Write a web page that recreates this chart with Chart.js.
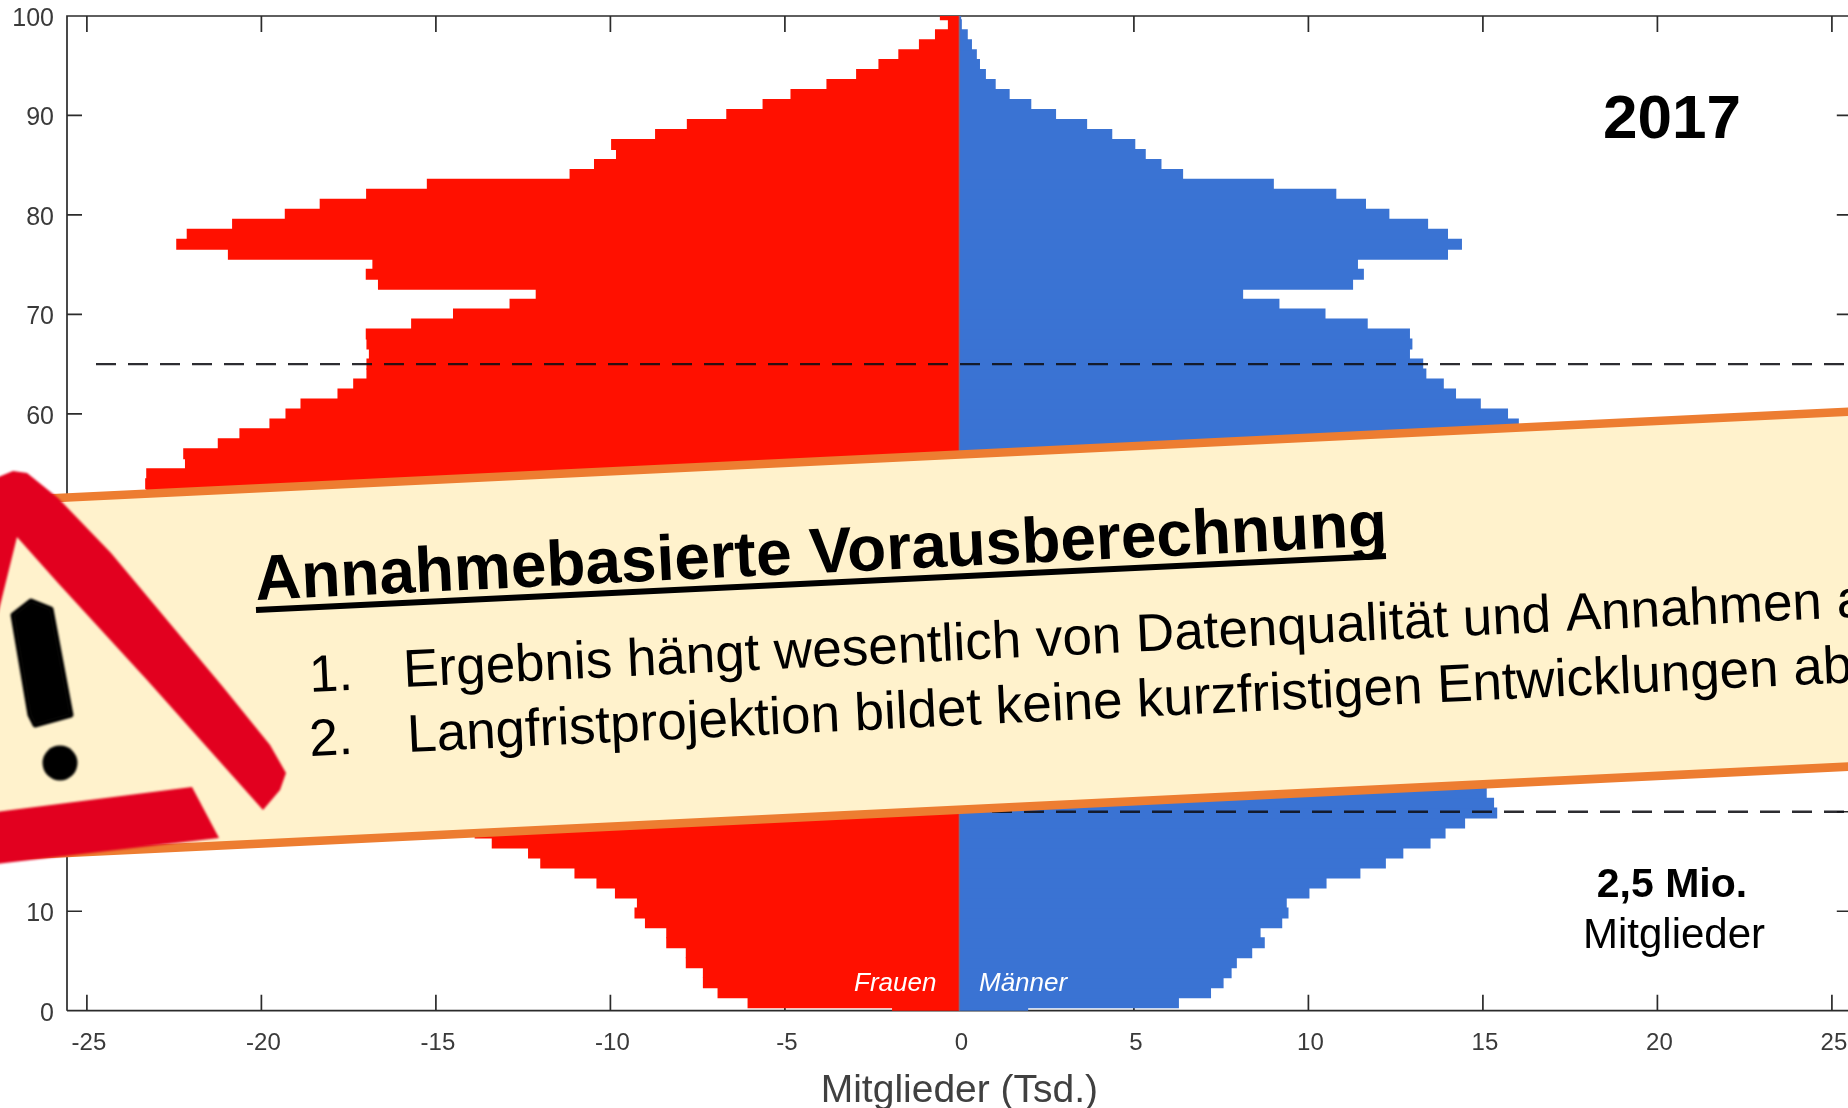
<!DOCTYPE html>
<html lang="de">
<head>
<meta charset="utf-8">
<title>Mitglieder 2017</title>
<style>
  html, body { margin: 0; padding: 0; background: #fff; overflow: hidden; width: 1848px; height: 1108px; }
  canvas { display: block; }
</style>
<script src="https://cdn.jsdelivr.net/npm/chart.js@4"></script>
</head>
<body>
<div style="width:1848px;height:1108px;overflow:hidden">
  <canvas id="pyramid" width="1900" height="1108"></canvas>
</div>
<script>
// one row per age band, bottom to top; row -1 is the small patch behind the Frauen/Männer labels
const rows = [-1, 0, 1, 2, 3, 4, 5, 6, 7, 8, 9,
  10, 11, 12, 13, 14, 15, 16, 17, 18, 19,
  20, 21, 22, 23, 24, 25, 26, 27, 28, 29,
  30, 31, 32, 33, 34, 35, 36, 37, 38, 39,
  40, 41, 42, 43, 44, 45, 46, 47, 48, 49,
  50, 51, 52, 53, 54, 55, 56, 57, 58, 59,
  60, 61, 62, 63, 64, 65, 66, 67, 68, 69,
  70, 71, 72, 73, 74, 75, 76, 77, 78, 79,
  80, 81, 82, 83, 84, 85, 86, 87, 88, 89,
  90, 91, 92, 93, 94, 95, 96, 97, 98, 99];

const frauen = [-1.93, -6.07, -6.93, -7.35, -7.35, -7.84, -7.84, -8.4, -8.4, -9.01, -9.31,
  -9.24, -9.87, -10.4, -11.03, -12.01, -12.36, -13.4, -13.89, -14.6, -15.3,
  -15.9, -16.2, -16.6, -16.9, -17.1, -17.3, -17.2, -17.4, -17.5, -17.3,
  -17.6, -17.4, -17.7, -17.8, -17.6, -17.9, -18.0, -18.2, -18.1, -18.4,
  -18.7, -19.0, -19.4, -19.9, -20.3, -20.8, -21.3, -21.7, -22.1, -22.5,
  -22.9, -23.3, -23.33, -23.3, -22.19, -22.24, -21.25, -20.63, -19.77, -19.31,
  -18.88, -17.82, -17.37, -16.99, -16.99, -16.92, -16.99, -17.01, -15.71, -14.51,
  -12.89, -12.14, -16.66, -17.01, -16.82, -20.96, -22.44, -22.14, -20.84, -19.33,
  -18.33, -17.0, -15.26, -11.17, -10.47, -9.84, -9.98, -8.72, -7.81, -6.68,
  -5.64, -4.84, -3.81, -2.96, -2.32, -1.75, -1.16, -0.7, -0.33, -0.56];

const maenner = [1.97, 6.29, 7.21, 7.57, 7.8, 7.95, 8.39, 8.75, 8.63, 9.25, 9.43,
  9.38, 10.03, 10.52, 11.49, 12.22, 12.72, 13.5, 13.93, 14.49, 15.41,
  15.32, 15.11, 15.0, 14.9, 14.8, 14.6, 14.7, 14.5, 14.4, 14.2,
  14.3, 14.0, 13.9, 14.0, 13.8, 13.9, 14.0, 14.1, 14.0, 14.2,
  14.3, 14.5, 14.6, 14.8, 15.0, 15.2, 15.3, 15.5, 15.6, 15.7,
  15.8, 15.9, 16.0, 16.1, 16.1, 16.1, 16.1, 16.1, 16.03, 15.72,
  14.94, 14.23, 13.88, 13.38, 13.29, 12.91, 12.98, 12.91, 11.7, 10.49,
  9.17, 8.13, 11.28, 11.59, 11.42, 14.0, 14.4, 14.0, 13.43, 12.32,
  11.65, 10.8, 9.01, 6.41, 5.79, 5.34, 5.04, 4.38, 3.66, 2.77,
  2.06, 1.44, 1.04, 0.76, 0.59, 0.5, 0.36, 0.24, 0.07, 0.05];

const xTicks = [-25, -20, -15, -10, -5, 0, 5, 10, 15, 20, 25];
const yTicks = [0, 10, 20, 30, 40, 50, 60, 70, 80, 90, 100];
const dashedAges = [20, 65];

const ROT = Math.atan(-0.0483);
const FONT = '"Liberation Sans", Arial, sans-serif';

function rotatedText(ctx, text, x, y, font) {
  ctx.save();
  ctx.translate(x, y);
  ctx.rotate(ROT);
  ctx.font = font;
  ctx.fillStyle = '#000';
  ctx.textAlign = 'left';
  ctx.textBaseline = 'alphabetic';
  ctx.fillText(text, 0, 0);
  ctx.restore();
}

function poly(ctx, pts, color) {
  ctx.beginPath();
  pts.forEach((p, i) => (i ? ctx.lineTo(p[0], p[1]) : ctx.moveTo(p[0], p[1])));
  ctx.closePath();
  ctx.fillStyle = color;
  ctx.fill();
}

// frame and inward ticks sit under the bars, as in the original
const framePlugin = {
  id: 'frame',
  beforeDatasetsDraw(chart) {
    const { ctx, chartArea: a, scales: { x, y } } = chart;
    ctx.save();
    ctx.strokeStyle = '#2b2b2b';
    ctx.lineWidth = 1.7;
    ctx.beginPath();
    ctx.moveTo(a.left, a.bottom); ctx.lineTo(a.left, a.top); ctx.lineTo(a.right, a.top);
    ctx.moveTo(a.left, a.bottom); ctx.lineTo(a.right, a.bottom);
    xTicks.forEach(v => {
      const px = x.getPixelForValue(v);
      ctx.moveTo(px, a.top); ctx.lineTo(px, a.top + 16);
      ctx.moveTo(px, a.bottom); ctx.lineTo(px, a.bottom - 16);
    });
    yTicks.forEach(v => {
      const py = y.getPixelForValue(v);
      ctx.moveTo(a.left, py); ctx.lineTo(a.left + 15, py);
      ctx.moveTo(a.right, py); ctx.lineTo(a.right - 15, py);
    });
    ctx.stroke();
    ctx.restore();
  },
  afterDatasetsDraw(chart) {
    const { ctx, chartArea: a, scales: { x, y } } = chart;
    ctx.save();
    // thin seam where red meets blue
    const zero = x.getPixelForValue(0);
    ctx.strokeStyle = '#7b6a8c';
    ctx.lineWidth = 1.4;
    ctx.beginPath();
    ctx.moveTo(zero, a.top);
    ctx.lineTo(zero, a.bottom);
    ctx.stroke();

    ctx.strokeStyle = 'rgba(15,15,20,0.88)';
    ctx.lineWidth = 2.4;
    ctx.setLineDash([20, 12]);
    dashedAges.forEach(age => {
      const py = y.getPixelForValue(age);
      ctx.beginPath();
      ctx.moveTo(a.left + 29, py);
      ctx.lineTo(a.right, py);
      ctx.stroke();
    });
    ctx.restore();
  }
};

const notesPlugin = {
  id: 'notes',
  afterDraw(chart) {
    const { ctx } = chart;
    ctx.save();

    // labels in the plot
    ctx.textAlign = 'center';
    ctx.textBaseline = 'alphabetic';
    ctx.fillStyle = '#000';
    ctx.font = 'bold 62px ' + FONT;
    ctx.fillText('2017', 1672, 138);
    ctx.font = 'bold 41px ' + FONT;
    ctx.fillText('2,5 Mio.', 1672, 897);
    ctx.font = '42px ' + FONT;
    ctx.fillText('Mitglieder', 1674, 948);
    ctx.fillStyle = '#fff';
    ctx.textAlign = 'left';
    ctx.font = 'italic 26px ' + FONT;
    ctx.fillText('Frauen', 854, 991);
    ctx.fillText('Männer', 979, 991);

    // banner
    const topY = px => 498 - 0.0482 * (px - 58);
    const botY = px => 853 - 0.0485 * (px - 67);
    ctx.beginPath();
    ctx.moveTo(-30, topY(-30));
    ctx.lineTo(1900, topY(1900));
    ctx.lineTo(1900, botY(1900));
    ctx.lineTo(-30, botY(-30));
    ctx.closePath();
    ctx.fillStyle = '#FFF2CC';
    ctx.fill();
    ctx.strokeStyle = '#ED7D31';
    ctx.lineWidth = 8.6;
    ctx.stroke();

    rotatedText(ctx, 'Annahmebasierte Vorausberechnung', 256, 600, 'bold 64px ' + FONT);
    ctx.strokeStyle = '#000';
    ctx.lineWidth = 6;
    ctx.beginPath();
    ctx.moveTo(256, 610);
    ctx.lineTo(1386, 556);
    ctx.stroke();
    rotatedText(ctx, '1.', 310, 692, '52px ' + FONT);
    rotatedText(ctx, 'Ergebnis hängt wesentlich von Datenqualität und Annahmen ab', 404, 687, '53px ' + FONT);
    rotatedText(ctx, '2.', 310, 756, '52px ' + FONT);
    rotatedText(ctx, 'Langfristprojektion bildet keine kurzfristigen Entwicklungen ab', 408, 752, '53px ' + FONT);

    // warning triangle, slightly soft like the pasted picture
    const red = '#E2001F';
    ctx.filter = 'blur(1.2px)';
    poly(ctx, [[-4, 478], [13, 471], [27, 473], [58, 498], [111, 553], [223, 687], [270, 745], [286, 773], [280, 790], [263, 810], [147, 680], [58, 583], [17, 537], [-4, 622]], red);
    poly(ctx, [[-4, 812], [192, 787], [219, 838], [-4, 864]], red);
    ctx.lineJoin = 'round';
    ctx.lineWidth = 5;
    ctx.strokeStyle = '#000';
    poly(ctx, [[13, 615], [31, 601], [51, 609], [71, 715], [35, 725], [30, 715]], '#000');
    ctx.stroke();
    ctx.beginPath();
    ctx.arc(60, 763, 17.5, 0, Math.PI * 2);
    ctx.fill();
    ctx.restore();
  }
};

new Chart(document.getElementById('pyramid'), {
  type: 'bar',
  data: {
    labels: rows,
    datasets: [
      { label: 'Frauen', data: frauen, backgroundColor: '#FF1000', yAxisID: 'yRows', xAxisID: 'x' },
      { label: 'Männer', data: maenner, backgroundColor: '#3A73D3', yAxisID: 'yRows', xAxisID: 'x' }
    ]
  },
  options: {
    indexAxis: 'y',
    responsive: false,
    animation: false,
    events: [],
    layout: { padding: { left: 0, top: 16, right: 48.2, bottom: 0 } },
    datasets: { bar: { barPercentage: 1.1, categoryPercentage: 1, borderWidth: 0 } },
    plugins: { legend: { display: false }, tooltip: { enabled: false } },
    scales: {
      x: {
        type: 'linear',
        position: 'bottom',
        stacked: true,
        min: -25.57,
        max: 25.57,
        afterFit: s => { s.height = 97.3; s.paddingLeft = 0; s.paddingRight = 0; },
        afterBuildTicks: s => { s.ticks = xTicks.map(v => ({ value: v })); },
        grid: { display: false },
        border: { display: false },
        ticks: { color: '#3a3a3a', font: { family: FONT, size: 24 }, padding: 10, labelOffset: 2, maxRotation: 0, autoSkip: false },
        title: {
          display: true,
          text: 'Mitglieder (Tsd.)',
          color: '#404040',
          font: { family: FONT, size: 39, lineHeight: 0.88 },
          padding: { top: 0, bottom: 0 }
        }
      },
      y: {
        type: 'linear',
        position: 'left',
        offset: false,
        min: 0,
        max: 100,
        afterFit: s => { s.width = 67; s.paddingTop = 0; s.paddingBottom = 0; },
        afterBuildTicks: s => { s.ticks = yTicks.map(v => ({ value: v })); },
        grid: { display: false },
        border: { display: false },
        ticks: { color: '#3a3a3a', font: { family: FONT, size: 25 }, padding: 5, labelOffset: 3, autoSkip: false }
      },
      // hidden row scale: the bar rows are slightly offset against the age axis
      yRows: {
        type: 'linear',
        position: 'left',
        display: false,
        offset: false,
        stacked: true,
        min: -0.8,
        max: 98.87
      }
    }
  },
  plugins: [framePlugin, notesPlugin]
});
</script>
</body>
</html>
